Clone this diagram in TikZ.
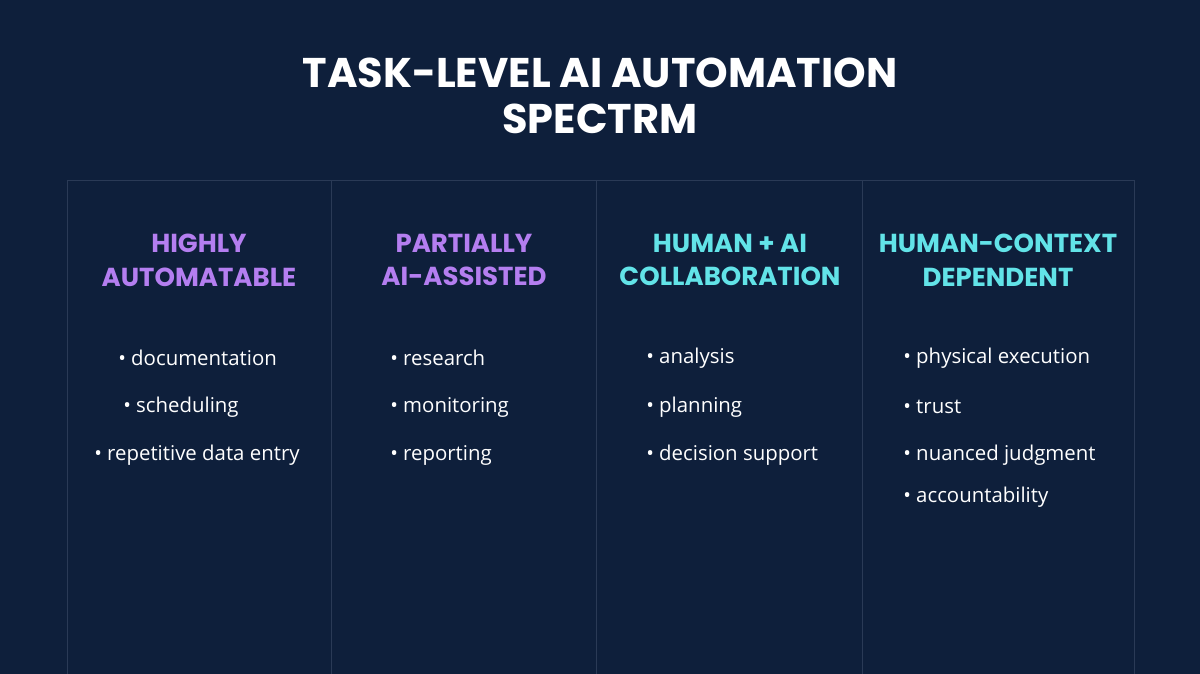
\documentclass[tikz,border=0pt]{standalone}
\usepackage{fontspec}
\setmainfont{Open Sans}
\newfontfamily\headfont{Poppins}
\definecolor{bg}{HTML}{0E1F3B}
\definecolor{grid}{HTML}{2A3A56}
\definecolor{purp}{HTML}{B47EF0}
\definecolor{cyan2}{HTML}{62E3E8}
\begin{document}
\begin{tikzpicture}[x=0.025cm,y=-0.025cm,
  title/.style={text=white,font=\headfont\bfseries\fontsize{29.5}{33}\selectfont,align=center},
  head/.style={font=\headfont\bfseries\fontsize{18.5}{24}\selectfont,align=center},
  item/.style={text=white,anchor=west,font=\fontsize{14.5}{16}\selectfont,inner sep=0pt}]
\fill[bg] (0,0) rectangle (1200,674);
\useasboundingbox (0,0) rectangle (1200,674);
\node[title] (t) at (600,96) {TASK-LEVEL AI AUTOMATION\\SPECTRM};
\draw[grid,line width=0.6pt] (67,674) -- (67,180) -- (1134,180) -- (1134,674);
\foreach \x/\n in {331/a,596/b,862/c}{\draw[grid,line width=0.6pt] (\x,180) -- (\x,674);}
\node[head,text=purp] (h1) at (199,260) {HIGHLY\\AUTOMATABLE};
\node[head,text=purp] (h2) at (464,260) {PARTIALLY\\AI-ASSISTED};
\node[head,text=cyan2] (h3) at (730,260) {HUMAN + AI\\COLLABORATION};
\node[head,text=cyan2] (h4) at (998,260) {HUMAN-CONTEXT\\DEPENDENT};
\node[item] (a1) at (118,358) {• documentation};
\node[item] (a2) at (123,407) {• scheduling};
\node[item] (a3) at (94,455) {• repetitive data entry};
\node[item] (b1) at (390,358) {• research};
\node[item] (b2) at (390,407) {• monitoring};
\node[item] (b3) at (390,455) {• reporting};
\node[item] (c1) at (646,358) {• analysis};
\node[item] (c2) at (646,407) {• planning};
\node[item] (c3) at (646,455) {• decision support};
\node[item] (d1) at (903,358) {• physical execution};
\node[item] (d2) at (903,407) {• trust};
\node[item] (d3) at (903,455) {• nuanced judgment};
\node[item] (d4) at (903,497) {• accountability};
\end{tikzpicture}
\end{document}
